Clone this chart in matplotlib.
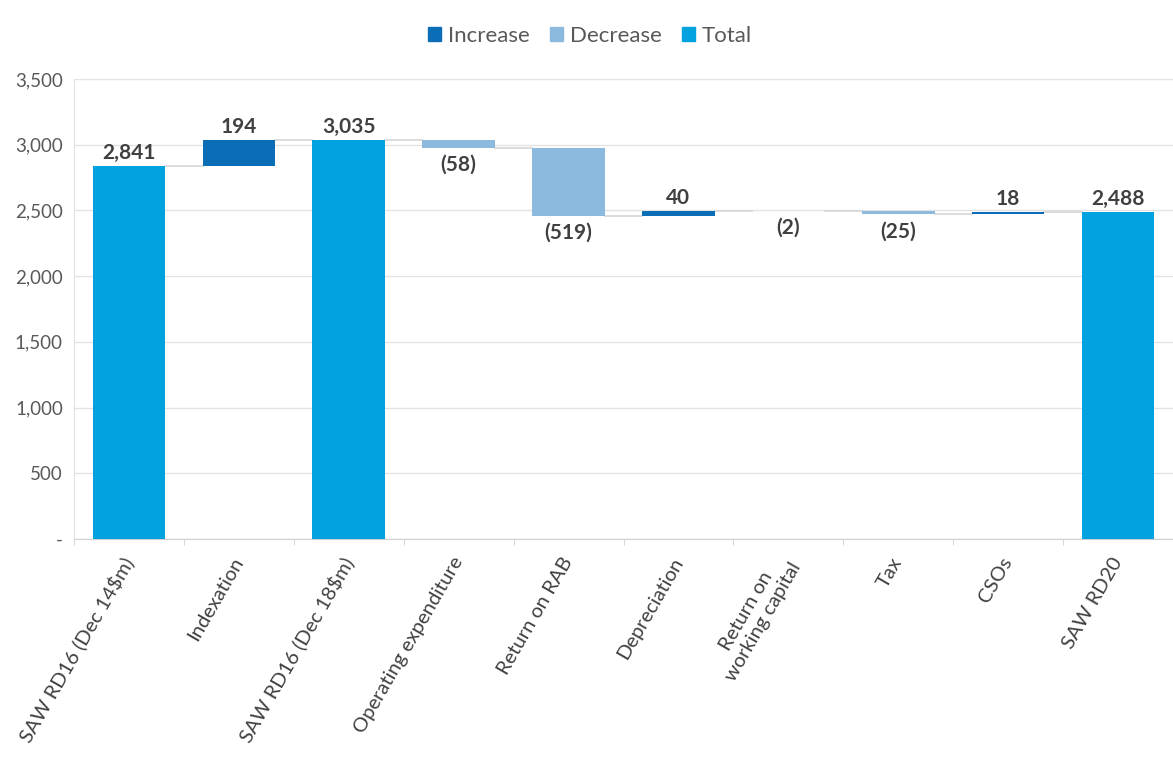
import numpy as np
import matplotlib
matplotlib.use("Agg")
import matplotlib.pyplot as plt
from matplotlib.patches import Patch

plt.rcParams['font.family'] = ['Lato', 'DejaVu Sans']

categories = ["SAW RD16 (Dec 14$m)", "Indexation", "SAW RD16 (Dec 18$m)",
              "Operating expenditure", "Return on RAB", "Depreciation",
              "Return on\nworking capital", "Tax", "CSOs", "SAW RD20"]
values = [2841, 194, 3035, -58, -519, 40, -2, -25, 18, 2488]
kinds = ["total", "inc", "total", "dec", "dec", "inc", "dec", "dec", "inc", "total"]
y_ticks = [0, 500, 1000, 1500, 2000, 2500, 3000, 3500]

colors = {"inc": "#0b6db5", "dec": "#8cbade", "total": "#00a3e0"}
label_color = "#404040"
tick_color = "#595959"

fig = plt.figure(figsize=(11.73, 7.62), dpi=100)
ax = fig.add_axes([74 / 1173, 1 - 539 / 762, 1 - 74 / 1173, (539 - 79) / 762])

x = np.arange(len(categories))
width = 0.66
bottoms, heights, levels = [], [], []
running = 0
for v, k in zip(values, kinds):
    if k == "total":
        bottoms.append(0)
        heights.append(v)
        running = v
    else:
        new = running + v
        bottoms.append(min(running, new))
        heights.append(abs(v))
        running = new
    levels.append(running)

ax.bar(x, heights, width, bottom=bottoms,
       color=[colors[k] for k in kinds], zorder=3)

# connectors between bars
for i in range(len(x) - 1):
    ax.plot([x[i] + width / 2, x[i + 1] - width / 2], [levels[i], levels[i]],
            color="#d6d6d6", lw=1.2, zorder=2)

# value labels
for i, (v, k) in enumerate(zip(values, kinds)):
    if v < 0:
        txt = "({:,})".format(-v)
        ax.annotate(txt, (x[i], bottoms[i]), xytext=(0, -5), textcoords="offset points",
                    ha="center", va="top", fontsize=15, fontweight="bold", color=label_color)
    else:
        txt = "{:,}".format(v)
        ax.annotate(txt, (x[i], bottoms[i] + heights[i]), xytext=(0, 2), textcoords="offset points",
                    ha="center", va="bottom", fontsize=15, fontweight="bold", color=label_color)

ax.set_ylim(0, 3500)
ax.set_xlim(-0.5, 9.4)
ax.set_yticks(y_ticks)
ax.set_yticklabels(["-" if t == 0 else "{:,}".format(t) for t in y_ticks])
ax.yaxis.grid(True, color="#e3e3e3", lw=1, zorder=0)
ax.tick_params(axis="y", length=0, labelsize=13.5, labelcolor=tick_color, pad=8)

ax.set_xticks(x)
ax.set_xticklabels(categories, rotation=60, ha="right", va="center", rotation_mode="anchor",
                   fontsize=14.5, color=label_color, multialignment="center")
ax.tick_params(axis="x", which="major", length=0, pad=14)
ax.set_xticks(np.arange(-0.5, len(categories), 1.0), minor=True)
ax.tick_params(axis="x", which="minor", length=4, color="#d0d0d0")

for s in ["top", "right"]:
    ax.spines[s].set_visible(False)
ax.spines["left"].set_color("#e3e3e3")
ax.spines["bottom"].set_color("#d0d0d0")

handles = [Patch(color=colors["inc"], label="Increase"),
           Patch(color=colors["dec"], label="Decrease"),
           Patch(color=colors["total"], label="Total")]
fig.legend(handles=handles, loc="center", bbox_to_anchor=(590 / 1173, 1 - 36 / 762),
           ncol=3, frameon=False, fontsize=16, handlelength=0.6, handleheight=0.6,
           handletextpad=0.3, columnspacing=0.9, labelcolor=tick_color)

fig.savefig("out.png", dpi=100)
